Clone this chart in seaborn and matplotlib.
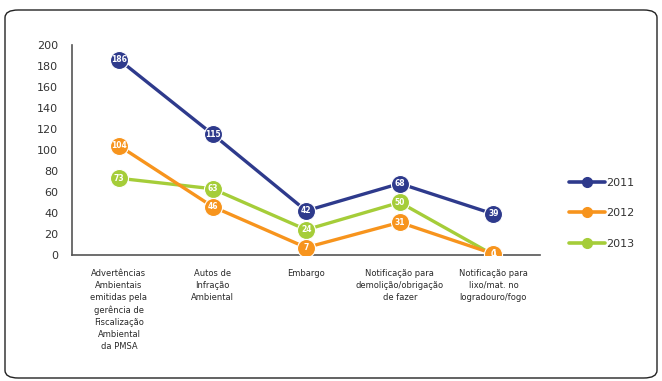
import matplotlib
matplotlib.use("Agg")
import matplotlib.pyplot as plt
import seaborn as sns
import pandas as pd
from matplotlib.patches import FancyBboxPatch
from matplotlib.lines import Line2D

categories = [
    "Advertências\nAmbientais\nemitidas pela\ngerência de\nFiscalização\nAmbiental\nda PMSA",
    "Autos de\nInfração\nAmbiental",
    "Embargo",
    "Notificação para\ndemolição/obrigação\nde fazer",
    "Notificação para\nlixo/mat. no\nlogradouro/fogo",
]
years = ["2011", "2012", "2013"]
values_2011 = [186, 115, 42, 68, 39]
values_2012 = [104, 46, 7, 31, 1]
values_2013 = [73, 63, 24, 50, 0]
yticks = [0, 20, 40, 60, 80, 100, 120, 140, 160, 180, 200]

colors = {"2011": "#2e3a8c", "2012": "#f7941d", "2013": "#a5cd39"}

rows = []
for yr, vals in zip(years, [values_2011, values_2012, values_2013]):
    for i, v in enumerate(vals):
        rows.append({"x": i, "cat": categories[i], "year": yr, "value": v})
df = pd.DataFrame(rows)

sns.set_style("white")
plt.rcParams["font.family"] = ["Liberation Sans Narrow", "DejaVu Sans"]

fig = plt.figure(figsize=(6.62, 3.81), dpi=100)
ax = fig.add_axes([0.109, 0.331, 0.707, 0.551])

# draw series in reverse so 2011 is on top
for yr in ["2013", "2012", "2011"]:
    sub = df[df["year"] == yr]
    sns.lineplot(data=sub, x="x", y="value", color=colors[yr], marker="o",
                 markersize=13, linewidth=2.4, markeredgecolor="white",
                 markeredgewidth=0.8, sort=False, ax=ax, legend=False,
                 zorder=3)
    for _, r in sub.iterrows():
        ax.text(r["x"], r["value"], str(r["value"]), color="white",
                fontsize=5.5, fontweight="bold", ha="center", va="center",
                zorder=4)

ax.set_xlim(-0.5, 4.5)
ax.set_ylim(0, 200)
ax.set_yticks(yticks)
ax.set_yticklabels([str(t) for t in yticks], fontsize=8, color="#333333")
ax.set_xticks(range(len(categories)))
ax.set_xticklabels(categories, fontsize=6, color="#2a2a2a", linespacing=1.45)
ax.tick_params(axis="x", length=0, pad=10)
ax.set_xticks([-0.5, 0.5, 1.5, 2.5, 3.5, 4.5], minor=True)
ax.tick_params(axis="x", which="minor", length=4, direction="inout",
               color="#555555", width=1)
ax.tick_params(axis="y", length=0, pad=10)
ax.set_xlabel("")
ax.set_ylabel("")
for s in ["top", "right"]:
    ax.spines[s].set_visible(False)
for s in ["left", "bottom"]:
    ax.spines[s].set_color("#555555")
    ax.spines[s].set_linewidth(1.2)
ax.set_facecolor("white")

handles = [Line2D([0], [0], color=colors[yr], lw=2.6, marker="o",
                  markersize=7, markeredgecolor=colors[yr]) for yr in years]
fig.legend(handles, years, loc="center left", bbox_to_anchor=(0.845, 0.44),
           frameon=False, fontsize=8, handlelength=3.2, handletextpad=0.1,
           labelspacing=1.85, labelcolor="#333333")

frame = FancyBboxPatch((5 / 662, 3 / 381), 652 / 662, 368 / 381,
                       boxstyle="round,pad=0,rounding_size=0.02",
                       transform=fig.transFigure, fill=False,
                       edgecolor="#222222", linewidth=1.0)
fig.patches.append(frame)

fig.savefig("out.png", dpi=100)
